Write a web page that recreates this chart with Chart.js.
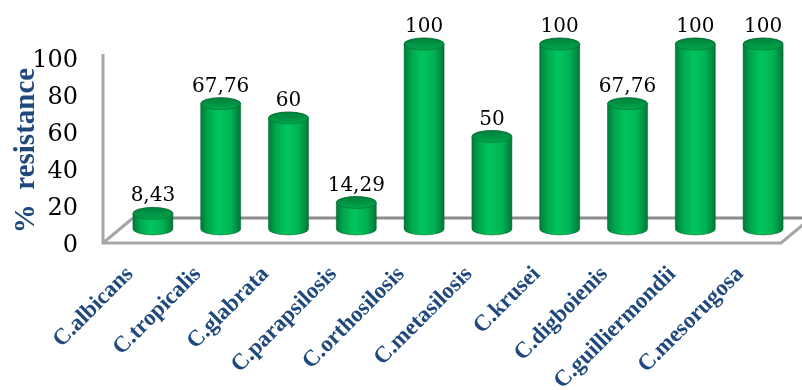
<!DOCTYPE html>
<html>
<head>
<meta charset="utf-8">
<script src="https://cdn.jsdelivr.net/npm/chart.js@4/dist/chart.umd.min.js"></script>
<style>
  html, body { margin: 0; padding: 0; background: #fff; }
  #wrap { width: 802px; height: 390px; }
</style>
</head>
<body>
<div id="wrap"><canvas id="myChart" width="802" height="390"></canvas></div>
<script>
const categories = ['C.albicans', 'C.tropicalis', 'C.glabrata', 'C.parapsilosis', 'C.orthosilosis',
    'C.metasilosis', 'C.krusei', 'C.digboienis', 'C.guilliermondii', 'C.mesorugosa'];
const resistance = [8.43, 67.76, 60, 14.29, 100, 50, 100, 67.76, 100, 100];
const yTickValues = [0, 20, 40, 60, 80, 100];

const labelBlue = '#1F497D';
// depth of the 3d floor, bars stand half way back
const DEPTH_X = 30, DEPTH_Y = -25;
const BAR_DX = 16, BAR_DY = -14;

function fmt(v) {
    return v.toString().replace('.', ',');
}

// floor + left edge, drawn before the cylinders
const floorPlugin = {
    id: 'floor',
    beforeDatasetsDraw(chart) {
        const { ctx, chartArea } = chart;
        const l = chartArea.left, r = chartArea.right, b = chartArea.bottom, t = chartArea.top;
        ctx.save();
        ctx.lineCap = 'butt';
        // back edge
        ctx.strokeStyle = '#8C8C8C';
        ctx.lineWidth = 3;
        ctx.beginPath();
        ctx.moveTo(l + DEPTH_X, b + DEPTH_Y);
        ctx.lineTo(r + DEPTH_X, b + DEPTH_Y);
        ctx.stroke();
        // front edge, sides and vertical axis line
        ctx.strokeStyle = '#A6A6A6';
        ctx.lineWidth = 3;
        ctx.beginPath();
        ctx.moveTo(l, t - 4);
        ctx.lineTo(l, b);
        ctx.lineTo(r, b);
        ctx.lineTo(r + DEPTH_X, b + DEPTH_Y);
        ctx.moveTo(l, b);
        ctx.lineTo(l + DEPTH_X, b + DEPTH_Y);
        ctx.stroke();
        ctx.restore();
    }
};

// cylinders on top of the (transparent) bar elements
const cylinderPlugin = {
    id: 'cylinders',
    afterDatasetsDraw(chart) {
        const { ctx } = chart;
        const meta = chart.getDatasetMeta(0);
        ctx.save();
        meta.data.forEach((bar, i) => {
            const cx = bar.x + BAR_DX;
            const top = bar.y + BAR_DY;
            const bot = bar.base + BAR_DY;
            const rx = bar.width / 2, ry = 6;

            const side = ctx.createLinearGradient(cx - rx, 0, cx + rx, 0);
            side.addColorStop(0, '#007B3A');
            side.addColorStop(0.18, '#00A64D');
            side.addColorStop(0.45, '#00C55E');
            side.addColorStop(0.75, '#00B254');
            side.addColorStop(1, '#007839');
            ctx.beginPath();
            ctx.moveTo(cx - rx, top);
            ctx.lineTo(cx - rx, bot);
            ctx.ellipse(cx, bot, rx, ry, 0, Math.PI, 0, true);
            ctx.lineTo(cx + rx, top);
            ctx.ellipse(cx, top, rx, ry, 0, 0, Math.PI, true);
            ctx.closePath();
            ctx.fillStyle = side;
            ctx.fill();
            ctx.strokeStyle = 'rgba(0,90,40,0.6)';
            ctx.lineWidth = 0.8;
            ctx.stroke();

            const cap = ctx.createLinearGradient(0, top - ry, 0, top + ry);
            cap.addColorStop(0, '#00803B');
            cap.addColorStop(1, '#00A64D');
            ctx.beginPath();
            ctx.ellipse(cx, top, rx, ry, 0, 0, Math.PI * 2);
            ctx.fillStyle = cap;
            ctx.fill();
            ctx.stroke();

            // value label
            ctx.fillStyle = '#000';
            ctx.font = '20px "DejaVu Serif"';
            ctx.textAlign = 'center';
            ctx.textBaseline = 'alphabetic';
            ctx.fillText(fmt(resistance[i]), cx, top - 12);
        });
        ctx.restore();
    }
};

const chart = new Chart(document.getElementById('myChart').getContext('2d'), {
    type: 'bar',
    data: {
        labels: categories,
        datasets: [{
            label: '% resistance',
            data: resistance,
            backgroundColor: 'rgba(0,0,0,0)',
            borderWidth: 0,
            barPercentage: 1,
            categoryPercentage: 0.59
        }]
    },
    options: {
        responsive: false,
        animation: false,
        layout: { padding: { top: 58, right: 21, left: 0, bottom: 0 } },
        plugins: {
            legend: { display: false },
            tooltip: { enabled: false }
        },
        scales: {
            x: {
                grid: { display: false, drawTicks: false },
                border: { display: false },
                ticks: {
                    autoSkip: false,
                    minRotation: 45,
                    maxRotation: 45,
                    padding: 18,
                    labelOffset: -7,
                    color: labelBlue,
                    font: { family: '"Liberation Serif"', size: 23, weight: 'bold' }
                },
                afterFit(scale) { scale.height = 147; }
            },
            y: {
                min: 0,
                max: 100,
                grid: { display: false, drawTicks: false },
                border: { display: false },
                afterBuildTicks(scale) {
                    scale.ticks = yTickValues.map(v => ({ value: v }));
                },
                ticks: {
                    padding: 25,
                    labelOffset: 3,
                    color: '#000',
                    font: { family: '"DejaVu Serif"', size: 24 }
                },
                title: {
                    display: true,
                    text: '%  resistance',
                    color: labelBlue,
                    padding: { top: 9, bottom: 0 },
                    font: { family: '"Liberation Serif"', size: 29, weight: 'bold' }
                },
                afterFit(scale) { scale.width = 103; }
            }
        }
    },
    plugins: [floorPlugin, cylinderPlugin]
});
</script>
</body>
</html>
